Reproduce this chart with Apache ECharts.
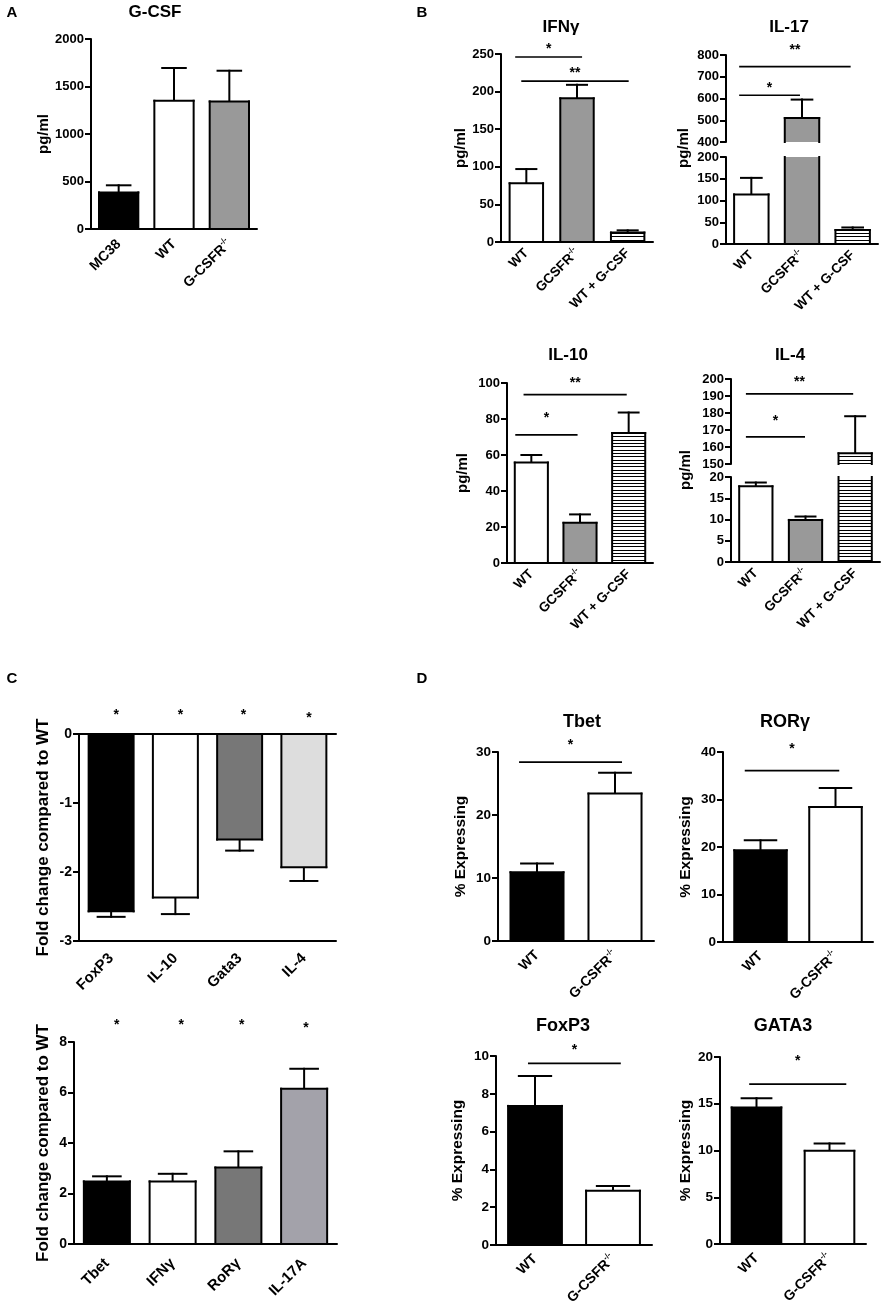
<!DOCTYPE html>
<html>
<head>
<meta charset="utf-8">
<script src="https://cdn.jsdelivr.net/npm/echarts@6/dist/echarts.min.js"></script>
<style>
  html, body { margin: 0; padding: 0; background: #fff; }
  #main { width: 883px; height: 1312px; }
</style>
</head>
<body>
<div id="main"></div>
<script>
// ---------- data ----------
// A: G-CSF in serum
var gcsfGroups = ['MC38', 'WT', 'G-CSFR{sup|-/-}'];
var gcsfMean = [385, 1350, 1343];
var gcsfSem = [75, 345, 323];

// B: cytokines
var cytoGroups = ['WT', 'GCSFR{sup|-/-}', 'WT + G-CSF'];
var ifngMean = [78, 191, 12.5];
var ifngSem = [19, 18, 3];
var il17Mean = [114, 510, 32];
var il17Sem = [38, 85, 6];
var il10Mean = [55.8, 22.3, 72.2];
var il10Sem = [4.2, 4.7, 11.4];
var il4Mean = [17.8, 9.9, 156.3];
var il4Sem = [0.9, 0.8, 21.8];

// C: fold change vs WT
var downGenes = ['FoxP3', 'IL-10', 'Gata3', 'IL-4'];
var downFold = [-2.57, -2.37, -1.53, -1.93];
var downSem = [0.08, 0.24, 0.16, 0.2];
var upGenes = ['Tbet', 'IFNγ', 'RoRγ', 'IL-17A'];
var upFold = [2.48, 2.48, 3.03, 6.15];
var upSem = [0.2, 0.3, 0.64, 0.79];

// D: % expressing
var tfGroups = ['WT', 'G-CSFR{sup|-/-}'];
var tbetPct = [10.9, 23.4];
var tbetSem = [1.4, 3.3];
var rorgPct = [19.3, 28.4];
var rorgSem = [2.1, 4.0];
var foxp3Pct = [7.36, 2.87];
var foxp3Sem = [1.58, 0.25];
var gata3Pct = [14.6, 9.96];
var gata3Sem = [1.0, 0.8];

// significance marks: [from, to (category units), line value, label, label value]
var ifngSig = [[-0.22, 1.1, 246, '*', 261], [-0.1, 2.02, 214, '**', 229]];
var il17Sig = [[-0.24, 0.96, 615, '*', 660], [-0.24, 1.96, 747, '**', 838]];
var il10Sig = [[-0.16, 1.96, 93.5, '**', 101.8], [-0.33, 0.95, 71.2, '*', 82.4]];
var il4Sig = [[-0.2, 1.96, 191.3, '**', 200.2], [-0.2, 0.99, 166, '*', 177.2]];
var downStars = [[0.08, 0.08, 0, '*', 0.32], [1.08, 1.08, 0, '*', 0.32], [2.06, 2.06, 0, '*', 0.32], [3.08, 3.08, 0, '*', 0.28]];
var upStars = [[0.15, 0.15, 0, '*', 8.8], [1.13, 1.13, 0, '*', 8.8], [2.05, 2.05, 0, '*', 8.8], [3.03, 3.03, 0, '*', 8.65]];
var tbetSig = [[-0.23, 1.09, 28.4, '*', 31.5]];
var rorgSig = [[-0.21, 1.05, 36.1, '*', 41.2]];
var foxp3Sig = [[-0.09, 1.1, 9.61, '*', 10.46]];
var gata3Sig = [[-0.1, 1.23, 17.1, '*', 19.85]];

// ---------- styling ----------
var FONT = '"Liberation Sans", Arial, sans-serif';
var AXIS = { color: '#000', width: 2 };

// horizontal stripe texture for the "WT + G-CSF" bars
var stripe = document.createElement('canvas');
stripe.width = 10; stripe.height = 10;
(function () {
  var c = stripe.getContext('2d');
  c.fillStyle = '#fff'; c.fillRect(0, 0, 10, 10);
  c.fillStyle = '#000';
  c.fillRect(0, 0, 10, 1); c.fillRect(0, 3, 10, 1); c.fillRect(0, 6, 10, 1);
})();
var STRIPES = { image: stripe, repeat: 'repeat' };

var grids = [], xAxes = [], yAxes = [], series = [], graphics = [];

function barItem(fills, ratio) {
  return function (params, api) {
    var k = api.value(0), v = api.value(1), s = api.value(2);
    var cs = params.coordSys;
    var lo = cs.y, hi = cs.y + cs.height;
    function clamp(y) { return Math.max(lo, Math.min(hi, y)); }
    function inside(y) { return y >= lo - 0.5 && y <= hi + 0.5; }
    var w = api.size([1, 0])[0] * ratio;
    var p = api.coord([k, v]);
    var cx = p[0], yv = p[1];
    var y0 = api.coord([k, 0])[1];
    var ye = api.coord([k, v < 0 ? v - s : v + s])[1];
    var x1 = cx - w / 2, x2 = cx + w / 2;
    var ln = { stroke: '#000', lineWidth: 2, lineCap: 'square' };
    var kids = [];
    var e1 = clamp(yv), e2 = clamp(ye);
    if (Math.abs(e1 - e2) > 0.5) kids.push({ type: 'line', shape: { x1: cx, y1: e1, x2: cx, y2: e2 }, style: ln });
    if (inside(ye)) kids.push({ type: 'line', shape: { x1: cx - w * 0.3, y1: ye, x2: cx + w * 0.3, y2: ye }, style: ln });
    var a = clamp(Math.min(yv, y0)), b = clamp(Math.max(yv, y0));
    if (b - a > 0.5) {
      kids.push({ type: 'rect', shape: { x: x1, y: a, width: w, height: b - a }, style: { fill: fills[k] } });
      kids.push({ type: 'line', shape: { x1: x1, y1: a, x2: x1, y2: b }, style: ln });
      kids.push({ type: 'line', shape: { x1: x2, y1: a, x2: x2, y2: b }, style: ln });
      if (inside(yv)) kids.push({ type: 'line', shape: { x1: x1, y1: yv, x2: x2, y2: yv }, style: ln });
      if (inside(y0)) kids.push({ type: 'line', shape: { x1: x1, y1: y0, x2: x2, y2: y0 }, style: ln });
    }
    return { type: 'group', children: kids };
  };
}

function markItem(marks) {
  return function (params, api) {
    var m = marks[params.dataIndex];
    var band = api.size([1, 0])[0];
    var base = api.coord([0, m[2]]);
    var kids = [];
    if (m[0] !== m[1]) {
      kids.push({ type: 'line', shape: { x1: base[0] + m[0] * band, y1: base[1], x2: base[0] + m[1] * band, y2: base[1] },
        style: { stroke: '#000', lineWidth: 1.7 } });
    }
    var ly = api.coord([0, m[4]])[1];
    kids.push({ type: 'text', x: base[0] + (m[0] + m[1]) / 2 * band, y: ly + 3,
      style: { text: m[3], fill: '#000', font: 'bold 14px ' + FONT, align: 'center', verticalAlign: 'middle',
        textAlign: 'center', textVerticalAlign: 'middle' } });
    return { type: 'group', children: kids };
  };
}

function addPanel(g) {
  var gi = grids.length;
  var catSize = g.catSize || 13.5;
  grids.push({ left: g.left, top: g.top, width: g.width, height: g.height });
  var xi = xAxes.length;
  xAxes.push({
    gridIndex: gi, type: 'category', data: g.cats, position: 'bottom', show: g.showX !== false,
    axisLine: { onZero: false, lineStyle: AXIS },
    axisTick: { alignWithLabel: true, length: 6, lineStyle: AXIS },
    axisLabel: { interval: 0, rotate: 45, margin: g.catMargin || 9, color: '#000', fontFamily: FONT, fontWeight: 'bold',
      fontSize: catSize, lineHeight: catSize + 3,
      rich: { sup: { fontSize: 8, fontWeight: 'bold', fontFamily: FONT, color: '#000', verticalAlign: 'top', lineHeight: catSize + 3 } } },
    splitLine: { show: false }
  });
  if (g.zeroLine) {
    xAxes.push({
      gridIndex: gi, type: 'category', data: g.cats, position: 'top',
      axisLine: { onZero: false, lineStyle: AXIS }, axisTick: { show: false }, axisLabel: { show: false }
    });
  }
  yAxes.push({
    gridIndex: gi, type: 'value', min: g.min, max: g.max, interval: g.interval,
    name: g.name || '', nameLocation: 'middle', nameGap: g.nameGap || 30, nameRotate: 90,
    nameTextStyle: { color: '#000', fontFamily: FONT, fontWeight: 'bold', fontSize: g.nameSize || 15 },
    axisLine: { show: true, lineStyle: AXIS },
    axisTick: { show: true, length: 6, lineStyle: AXIS },
    axisLabel: { color: '#000', fontFamily: FONT, fontWeight: 'bold', fontSize: g.tickSize || 13, margin: 7,
      formatter: function (v) { return String(v); } },
    splitLine: { show: false }
  });
  series.push({
    type: 'custom', xAxisIndex: xi, yAxisIndex: gi, silent: true,
    renderItem: barItem(g.fills, g.ratio),
    data: g.mean.map(function (v, k) { return [k, v, g.sem[k]]; })
  });
  if (g.marks) {
    series.push({
      type: 'custom', xAxisIndex: xi, yAxisIndex: gi, silent: true,
      renderItem: markItem(g.marks),
      data: g.marks.map(function (m) { return [0, m[2]]; })
    });
  }
}

function text(str, x, y, size, rot) {
  graphics.push({
    type: 'text', x: x, y: y, rotation: rot ? Math.PI / 2 : 0,
    style: { text: str, fill: '#000', font: 'bold ' + size + 'px ' + FONT, textAlign: 'center', textVerticalAlign: 'middle' }
  });
}

// ---------- panels ----------
// A
addPanel({ left: 91, top: 39, width: 166, height: 190, min: 0, max: 2000, interval: 500,
  cats: gcsfGroups, mean: gcsfMean, sem: gcsfSem, ratio: 0.71, fills: ['#000', '#fff', '#999'],
  name: 'pg/ml', nameGap: 40, catSize: 14, catMargin: 13 });

// B top
addPanel({ left: 501, top: 54, width: 152, height: 188, min: 0, max: 250, interval: 50,
  cats: cytoGroups, mean: ifngMean, sem: ifngSem, ratio: 0.66, fills: ['#fff', '#999', STRIPES],
  name: 'pg/ml', nameGap: 32, marks: ifngSig });
addPanel({ left: 726, top: 55, width: 152, height: 87, min: 400, max: 800, interval: 100, showX: false,
  cats: cytoGroups, mean: il17Mean, sem: il17Sem, ratio: 0.68, fills: ['#fff', '#999', STRIPES], marks: il17Sig });
addPanel({ left: 726, top: 157, width: 152, height: 87, min: 0, max: 200, interval: 50,
  cats: cytoGroups, mean: il17Mean, sem: il17Sem, ratio: 0.68, fills: ['#fff', '#999', STRIPES] });

// B bottom
addPanel({ left: 507, top: 383, width: 146, height: 180, min: 0, max: 100, interval: 20,
  cats: cytoGroups, mean: il10Mean, sem: il10Sem, ratio: 0.68, fills: ['#fff', '#999', STRIPES],
  name: 'pg/ml', nameGap: 37, marks: il10Sig });
addPanel({ left: 731, top: 379, width: 149, height: 85, min: 150, max: 200, interval: 10, showX: false,
  cats: cytoGroups, mean: il4Mean, sem: il4Sem, ratio: 0.67, fills: ['#fff', '#999', STRIPES], marks: il4Sig });
addPanel({ left: 731, top: 477, width: 149, height: 85, min: 0, max: 20, interval: 5,
  cats: cytoGroups, mean: il4Mean, sem: il4Sem, ratio: 0.67, fills: ['#fff', '#999', STRIPES] });

// C
addPanel({ left: 79, top: 734, width: 257, height: 207, min: -3, max: 0, interval: 1, zeroLine: true,
  cats: downGenes, mean: downFold, sem: downSem, ratio: 0.7, fills: ['#000', '#fff', '#777', '#ddd'],
  name: 'Fold change compared to WT', nameGap: 27, nameSize: 17, tickSize: 14, catSize: 15, catMargin: 15,
  marks: downStars });
addPanel({ left: 74, top: 1042, width: 263, height: 202, min: 0, max: 8, interval: 2,
  cats: upGenes, mean: upFold, sem: upSem, ratio: 0.7, fills: ['#000', '#fff', '#777', '#a3a2aa'],
  name: 'Fold change compared to WT', nameGap: 22, nameSize: 17, tickSize: 14, catSize: 15, catMargin: 17,
  marks: upStars });

// D
addPanel({ left: 498, top: 752, width: 156, height: 189, min: 0, max: 30, interval: 10,
  cats: tfGroups, mean: tbetPct, sem: tbetSem, ratio: 0.68, fills: ['#000', '#fff'],
  name: '% Expressing', nameGap: 29, nameSize: 15.5, tickSize: 13.5, catSize: 14, catMargin: 12, marks: tbetSig });
addPanel({ left: 723, top: 752, width: 150, height: 190, min: 0, max: 40, interval: 10,
  cats: tfGroups, mean: rorgPct, sem: rorgSem, ratio: 0.7, fills: ['#000', '#fff'],
  name: '% Expressing', nameGap: 29, nameSize: 15.5, tickSize: 13.5, catSize: 14, catMargin: 12, marks: rorgSig });
addPanel({ left: 496, top: 1056, width: 156, height: 189, min: 0, max: 10, interval: 2,
  cats: tfGroups, mean: foxp3Pct, sem: foxp3Sem, ratio: 0.69, fills: ['#000', '#fff'],
  name: '% Expressing', nameGap: 30, nameSize: 15.5, tickSize: 13.5, catSize: 14, catMargin: 12, marks: foxp3Sig });
addPanel({ left: 720, top: 1057, width: 146, height: 187, min: 0, max: 20, interval: 5,
  cats: tfGroups, mean: gata3Pct, sem: gata3Sem, ratio: 0.68, fills: ['#000', '#fff'],
  name: '% Expressing', nameGap: 26, nameSize: 15.5, tickSize: 13.5, catSize: 14, catMargin: 12, marks: gata3Sig });

// panel letters, titles, names of the broken axes
text('A', 12, 13, 15); text('B', 422, 13, 15); text('C', 12, 679, 15); text('D', 422, 679, 15);
text('G-CSF', 155, 12, 17);
text('IFNγ', 561, 27, 17); text('IL-17', 789, 27, 17);
text('IL-10', 568, 355, 17); text('IL-4', 790, 355, 17);
text('Tbet', 582, 722, 18); text('RORγ', 785, 722, 18);
text('FoxP3', 563, 1026, 18); text('GATA3', 783, 1026, 18);
text('pg/ml', 684, 148, 15, true);
text('pg/ml', 686, 470, 15, true);

var chart = echarts.init(document.getElementById('main'), null, { renderer: 'canvas' });
chart.setOption({
  animation: false,
  backgroundColor: '#fff',
  grid: grids,
  xAxis: xAxes,
  yAxis: yAxes,
  series: series,
  graphic: graphics
});
</script>
</body>
</html>
